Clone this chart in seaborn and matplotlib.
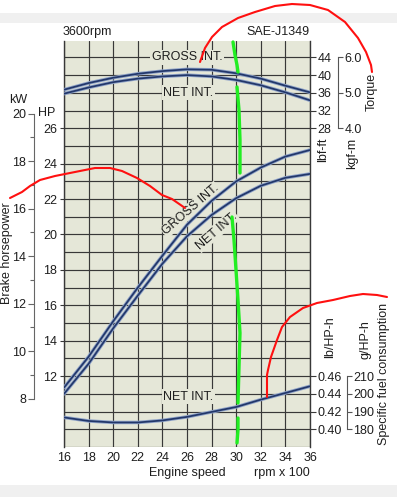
import numpy as np
import pandas as pd
import matplotlib
matplotlib.use("Agg")
import matplotlib.pyplot as plt
import matplotlib.patheffects as pe
from matplotlib.patches import Rectangle
from matplotlib.ticker import MultipleLocator, FixedLocator
import seaborn as sns

# ---------------- data ----------------
rpm = [16, 18, 20, 22, 24, 26, 28, 30, 32, 34, 36]            # rpm x 100
torque_gross_lbft = [36.7, 38.2, 39.4, 40.3, 40.9, 41.3, 41.2, 40.4, 39.2, 37.6, 36.1]
torque_net_lbft = [35.8, 37.2, 38.4, 39.2, 39.7, 40.0, 39.7, 38.9, 37.7, 36.1, 34.3]
power_gross_hp = [11.35, 13.1, 15.1, 17.0, 18.8, 20.55, 21.9, 23.0, 23.78, 24.4, 24.77]
power_net_hp = [11.0, 12.7, 14.7, 16.55, 18.35, 19.9, 21.1, 22.05, 22.75, 23.2, 23.42]
fuel_net_lb = [0.4134, 0.4094, 0.4077, 0.4077, 0.4100, 0.4140, 0.4196, 0.4252, 0.4335, 0.4410, 0.4486]

x_ticks = [16, 18, 20, 22, 24, 26, 28, 30, 32, 34, 36]
hp_ticks = [12, 14, 16, 18, 20, 22, 24, 26]
kw_ticks = [8, 10, 12, 14, 16, 18, 20]
lbft_ticks = [28, 32, 36, 40, 44]
kgfm_ticks = [4.0, 5.0, 6.0]
lbhph_ticks = [0.40, 0.42, 0.44, 0.46]
ghph_ticks = [180, 190, 200, 210]

# hand-drawn marker annotations on the reference (traced, figure pixels)
red_torque_x = [200, 205, 212, 222, 238, 255, 275, 292, 310, 328, 345, 358, 366, 371, 372]
red_torque_y = [62, 48, 37, 27, 18, 12, 6, 4, 5, 10, 22, 38, 52, 65, 72]
red_power_x = [10, 22, 30, 40, 55, 75, 95, 110, 122, 137, 150, 162, 172, 185]
red_power_y = [198, 192, 186, 180, 176, 172, 168, 168, 171, 178, 186, 195, 199, 208]
red_fuel_x = [267, 267, 268, 271, 277, 282, 290, 303, 317, 333, 350, 363, 377, 387]
red_fuel_y = [397, 375, 370, 357, 340, 327, 317, 308, 303, 300, 296, 294, 295, 297]
green_segments = [
    ([233, 235, 237, 238], [42, 55, 65, 72]),
    ([237, 239, 240, 240], [87, 110, 140, 173]),
    ([232, 234, 236, 238, 240, 239, 238], [217, 240, 270, 300, 333, 367, 403]),
    ([238, 238, 237], [418, 430, 443]),
]

# ---------------- style ----------------
sns.set_theme(style="white")
plt.rcParams['font.family'] = ['Liberation Sans', 'DejaVu Sans']
plt.rcParams['font.size'] = 9
TXT = '#1e1e1e'
BG = '#e5e7d8'
GRID = '#383838'
CURVE = '#22376a'
HALO = '#8ea2c8'
FS = 9

W, H = 397, 497
fig = plt.figure(figsize=(W / 100, H / 100), dpi=100)
fig.patch.set_facecolor('white')
fig.add_artist(Rectangle((0, 1 - 23 / H), 1, 10 / H, transform=fig.transFigure,
                         facecolor='#f0f0f0', edgecolor='none', zorder=0))
fig.add_artist(Rectangle((0, 0), 1, 12 / H, transform=fig.transFigure,
                         facecolor='#f0f0f0', edgecolor='none', zorder=0))

L, R, T, B = 64, 310, 41, 447
px_per_hp = 17.71
hp_top = 8 + (B - T) / px_per_hp
ax = fig.add_axes([L / W, 1 - B / H, (R - L) / W, (B - T) / H])
ax.set_facecolor(BG)

peff = [pe.Stroke(linewidth=2.5, foreground=HALO), pe.Normal()]

def curve(a, x, y):
    sns.lineplot(x=x, y=y, ax=a, color=CURVE, linewidth=1.25, sort=False,
                 estimator=None)
    a.lines[-1].set_path_effects(peff)
    a.lines[-1].set_zorder(4)

# power (main axis, HP)
curve(ax, rpm, power_gross_hp)
curve(ax, rpm, power_net_hp)
ax.set_xlim(16, 36)
ax.set_ylim(8, hp_top)
ax.set_xlabel('')
ax.set_ylabel('')
ax.set_xticks(x_ticks)
ax.set_xticklabels([str(v) for v in x_ticks])
ax.yaxis.set_major_locator(FixedLocator(hp_ticks))
ax.yaxis.set_minor_locator(MultipleLocator(1))
ax.set_yticklabels([str(v) for v in hp_ticks])
ax.set_axisbelow(True)
ax.grid(axis='x', which='major', color=GRID, linewidth=0.85)
ax.grid(axis='y', which='both', color=GRID, linewidth=0.85)
ax.tick_params(axis='x', length=0, pad=3.5, labelsize=FS, labelcolor=TXT)
ax.tick_params(axis='y', which='major', direction='out', length=3, width=0.8,
               pad=2, labelsize=FS, labelcolor=TXT, color=GRID, left=True)
ax.tick_params(axis='y', which='minor', length=0)
for s in ['top', 'bottom']:
    ax.spines[s].set_visible(False)
for s in ['left', 'right']:
    ax.spines[s].set_color(GRID)
    ax.spines[s].set_linewidth(1.0)

# torque (lbf-ft)
ax_t = ax.twinx()
curve(ax_t, rpm, torque_gross_lbft)
curve(ax_t, rpm, torque_net_lbft)
ax_t.set_ylim(28 + 4 * (8 - 26), 28 + 4 * (hp_top - 26))
ax_t.set_yticks(lbft_ticks)
ax_t.set_yticklabels([str(v) for v in lbft_ticks])

# fuel (lb/HP-h)
ax_f = ax.twinx()
curve(ax_f, rpm, fuel_net_lb)
ax_f.set_ylim(0.40 + 0.02 * (8 - 9), 0.40 + 0.02 * (hp_top - 9))
ax_f.set_yticks(lbhph_ticks)
ax_f.set_yticklabels([f'{v:.2f}' for v in lbhph_ticks])

for a in (ax_t, ax_f):
    a.set_ylabel('')
    for s in a.spines.values():
        s.set_visible(False)
    a.tick_params(axis='y', direction='out', length=4, width=0.8, pad=1.5,
                  labelsize=FS, labelcolor=TXT, color=GRID, right=True)

# kgf-m secondary spine
ax_k = ax.twinx()
ax_k.set_ylim(4 + (28 + 4 * (8 - 26) - 28) / 8, 4 + (28 + 4 * (hp_top - 26) - 28) / 8)
# g/HP-h secondary spine
ax_g = ax.twinx()
ax_g.set_ylim(180 + 10 * (8 - 9), 180 + 10 * (hp_top - 9))
for a, pos, ticks, fmt in ((ax_k, (338 - L) / (R - L), kgfm_ticks, '{:.1f}'),
                           (ax_g, (347 - L) / (R - L), ghph_ticks, '{:d}')):
    for s in a.spines.values():
        s.set_visible(False)
    a.spines['right'].set_visible(True)
    a.spines['right'].set_position(('axes', pos))
    a.spines['right'].set_bounds(ticks[0], ticks[-1])
    a.spines['right'].set_color('#555555')
    a.spines['right'].set_linewidth(0.8)
    a.set_yticks(ticks)
    a.set_yticklabels([fmt.format(v) for v in ticks])
    a.tick_params(axis='y', direction='out', length=3.5, width=0.8, pad=1,
                  labelsize=FS, labelcolor=TXT, color='#555555', right=True)

# kW secondary spine on the left
ax_kw = ax.twinx()
ax_kw.set_ylim(8 / 1.341, hp_top / 1.341)
for s in ax_kw.spines.values():
    s.set_visible(False)
ax_kw.yaxis.set_ticks_position('left')
ax_kw.yaxis.set_label_position('left')
ax_kw.spines['left'].set_visible(True)
ax_kw.spines['left'].set_position(('axes', (34 - L) / (R - L)))
ax_kw.spines['left'].set_bounds(kw_ticks[0], kw_ticks[-1])
ax_kw.spines['left'].set_color('#666666')
ax_kw.spines['left'].set_linewidth(0.8)
ax_kw.set_yticks(kw_ticks)
ax_kw.set_yticklabels([str(v) for v in kw_ticks])
ax_kw.yaxis.set_minor_locator(FixedLocator([v + 1 for v in kw_ticks[:-1]]))
ax_kw.tick_params(axis='y', which='major', direction='out', length=4, width=0.8,
                  pad=1.5, labelsize=FS, labelcolor=TXT, color='#666666',
                  left=True, right=False, labelleft=True, labelright=False)
ax_kw.tick_params(axis='y', which='minor', direction='out', length=3, width=0.8,
                  color='#666666', left=True, right=False)

# curve labels
lab = dict(ha='center', va='center', fontsize=FS, color=TXT, zorder=3)
box = dict(facecolor=BG, edgecolor='none', pad=1.2)
ax_t.text(26.0, 44, 'GROSS INT.', bbox=box, **lab)
ax_t.text(26.1, 36, 'NET INT.', bbox=box, **lab)
ax.text(26.3, 21.4, 'GROSS INT.', rotation=41, rotation_mode='anchor',
        bbox=dict(facecolor=BG, edgecolor='none', pad=0.6), **lab)
ax.text(28.4, 20.2, 'NET INT.', rotation=41, rotation_mode='anchor',
        bbox=dict(facecolor=BG, edgecolor='none', pad=0.6), **lab)
ax_f.text(26.1, 0.437, 'NET INT.', bbox=box, **lab)

# axis texts
def ft(px, py, s, **kw):
    fig.text(px / W, 1 - py / H, s, fontsize=FS, color=TXT, **kw)

ft(63, 32, '3600rpm', ha='left', va='center')
ft(310, 32, 'SAE-J1349', ha='right', va='center')
ft(18, 100, 'kW', ha='center', va='center')
ft(47, 113, 'HP', ha='center', va='center')
ft(7, 253, 'Brake horsepower', ha='center', va='center', rotation=90)
ft(323, 150, 'lbf-ft', ha='center', va='center', rotation=90)
ft(352, 153, 'kgf-m', ha='center', va='center', rotation=90)
ft(372, 92, 'Torque', ha='center', va='center', rotation=90)
ft(330, 337, 'lb/HP-h', ha='center', va='center', rotation=90)
ft(366, 340, 'g/HP-h', ha='center', va='center', rotation=90)
ft(384, 374, 'Specific fuel consumption', ha='center', va='center', rotation=90)
ft(187, 473, 'Engine speed', ha='center', va='center')
ft(282, 473, 'rpm x 100', ha='center', va='center')

# overlay with hand-drawn marks (figure pixel space)
ov = fig.add_axes([0, 0, 1, 1])
ov.set_xlim(0, W)
ov.set_ylim(H, 0)
ov.axis('off')
ov.patch.set_visible(False)
for xs, ys in ((red_torque_x, red_torque_y), (red_power_x, red_power_y),
               (red_fuel_x, red_fuel_y)):
    sns.lineplot(x=xs, y=ys, ax=ov, color='#ff1010', linewidth=1.5, sort=False,
                 estimator=None)
for xs, ys in green_segments:
    sns.lineplot(x=xs, y=ys, ax=ov, color='#22ee22', linewidth=2.4, sort=False,
                 estimator=None)
ov.set_xlim(0, W)
ov.set_ylim(H, 0)
ov.set_xlabel('')
ov.set_ylabel('')

fig.savefig('out.png', dpi=100, facecolor='white')
